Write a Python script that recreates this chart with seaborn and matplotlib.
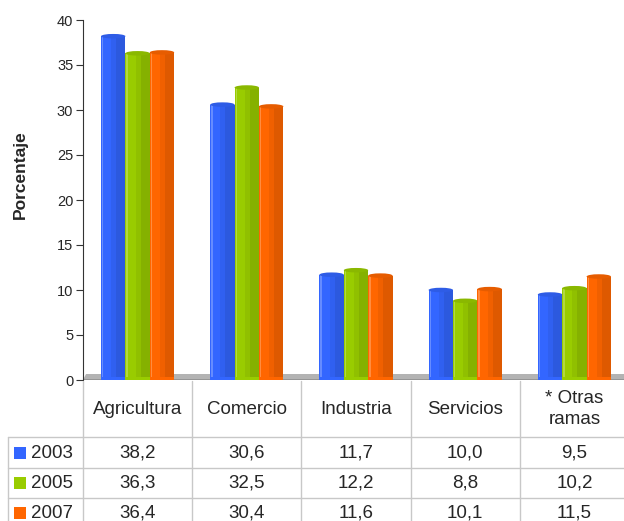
import numpy as np
import pandas as pd
import matplotlib
matplotlib.use("Agg")
import matplotlib.pyplot as plt
import matplotlib.colors as mcolors
from matplotlib.patches import Rectangle, Ellipse, Polygon
from matplotlib.transforms import blended_transform_factory
import seaborn as sns

# data
categories = ["Agricultura", "Comercio", "Industria", "Servicios", "* Otras\nramas"]
years = ["2003", "2005", "2007"]
v2003 = [38.2, 30.6, 11.7, 10.0, 9.5]
v2005 = [36.3, 32.5, 12.2, 8.8, 10.2]
v2007 = [36.4, 30.4, 11.6, 10.1, 11.5]
colors = ["#3366ff", "#99cc00", "#ff6600"]

df = pd.DataFrame({
    "cat": categories * 3,
    "year": [y for y in years for _ in categories],
    "val": v2003 + v2005 + v2007,
})

sns.set_style("white")
plt.rcParams["font.family"] = ["Liberation Sans", "DejaVu Sans"]

W, H = 624, 521
fig = plt.figure(figsize=(W / 100, H / 100), dpi=100)

def fx(px):
    return px / W

def fy(py):
    return 1 - py / H

ax = fig.add_axes([fx(83), fy(380), fx(629) - fx(83), fy(20) - fy(380)])

sns.barplot(data=df, x="cat", y="val", hue="year", palette=colors,
            width=0.67, gap=0, legend=False, ax=ax, zorder=2, linewidth=0,
            saturation=1)

# cylinder shading
bars = [p for p in ax.patches if isinstance(p, Rectangle)]
for p in bars:
    x, w, h = p.get_x(), p.get_width(), p.get_height()
    base = np.array(mcolors.to_rgb(p.get_facecolor()))
    dark = base * 0.87
    light = np.clip(base + (1 - base) * 0.25, 0, 1)
    ax.add_patch(Rectangle((x + w * 0.62, 0.3), w * 0.38, h - 0.3,
                           color=dark, lw=0, zorder=3))
    ax.add_patch(Rectangle((x + w * 0.42, 0.3), w * 0.2, h - 0.3,
                           color=base * 0.94, lw=0, zorder=3))
    ax.add_patch(Rectangle((x + w * 0.04, 0.3), w * 0.06, h - 0.3,
                           color=light, lw=0, zorder=3))
    ax.add_patch(Ellipse((x + w / 2, h), w, 0.5, color=base * 0.9,
                         lw=0, zorder=4))

# floor (slanted strip)
ax.add_patch(Polygon([(-0.5, 0), (4.6, 0), (4.6, 0.7), (-0.47, 0.7)],
                     closed=True, color="#b3b3b3", lw=0, zorder=1))
ax.axhline(0, color="#909090", lw=1.2, zorder=1.5)

ax.set_xlim(-0.5, 4.5)
ax.set_ylim(0, 40)
ax.set_yticks(range(0, 41, 5))
ax.tick_params(axis="y", which="both", left=True, length=5, width=0.8,
               color="#333333", labelsize=10.5, pad=2)
ax.set_xticks([])
ax.set_xlabel("")
ax.set_ylabel("")
for s in ["top", "right", "bottom"]:
    ax.spines[s].set_visible(False)
ax.spines["left"].set_color("#333333")
ax.spines["left"].set_linewidth(0.8)
ax.spines["left"].set_zorder(5)

fig.text(fx(20.5), fy(175), "Porcentaje", rotation=90, ha="center",
         va="center", fontsize=12.5, fontweight="bold")

# data table below chart
tr = blended_transform_factory(ax.transData, fig.transFigure)
grid = "#c8c8c8"
row_lines = [437, 468, 498]
for yy in row_lines:
    fig.add_artist(plt.Line2D([fx(8), 1.0], [fy(yy), fy(yy)],
                              transform=fig.transFigure, color=grid, lw=1))
for i in range(len(categories) + 1):
    fig.add_artist(plt.Line2D([i - 0.5, i - 0.5], [fy(381), 0],
                              transform=tr, color=grid, lw=1))
fig.add_artist(plt.Line2D([fx(8), fx(8)], [fy(437), 0],
                          transform=fig.transFigure, color=grid, lw=1))

for i, c in enumerate(categories):
    fig.text(i, fy(409), c, transform=tr, ha="center", va="center",
             fontsize=13.5, linespacing=1.25)

row_centers = [453, 483, 513]
for r, (yr, vals, col) in enumerate(zip(years, [v2003, v2005, v2007], colors)):
    yc = row_centers[r]
    fig.add_artist(Rectangle((fx(14), fy(yc + 6)), fx(12), fy(0) - fy(12),
                             transform=fig.transFigure, color=col, lw=0))
    fig.text(fx(31), fy(yc), yr, ha="left", va="center", fontsize=13.5)
    for i, v in enumerate(vals):
        fig.text(i, fy(yc), f"{v:.1f}".replace(".", ","), transform=tr,
                 ha="center", va="center", fontsize=13.5)

fig.savefig("out.png", dpi=100)
